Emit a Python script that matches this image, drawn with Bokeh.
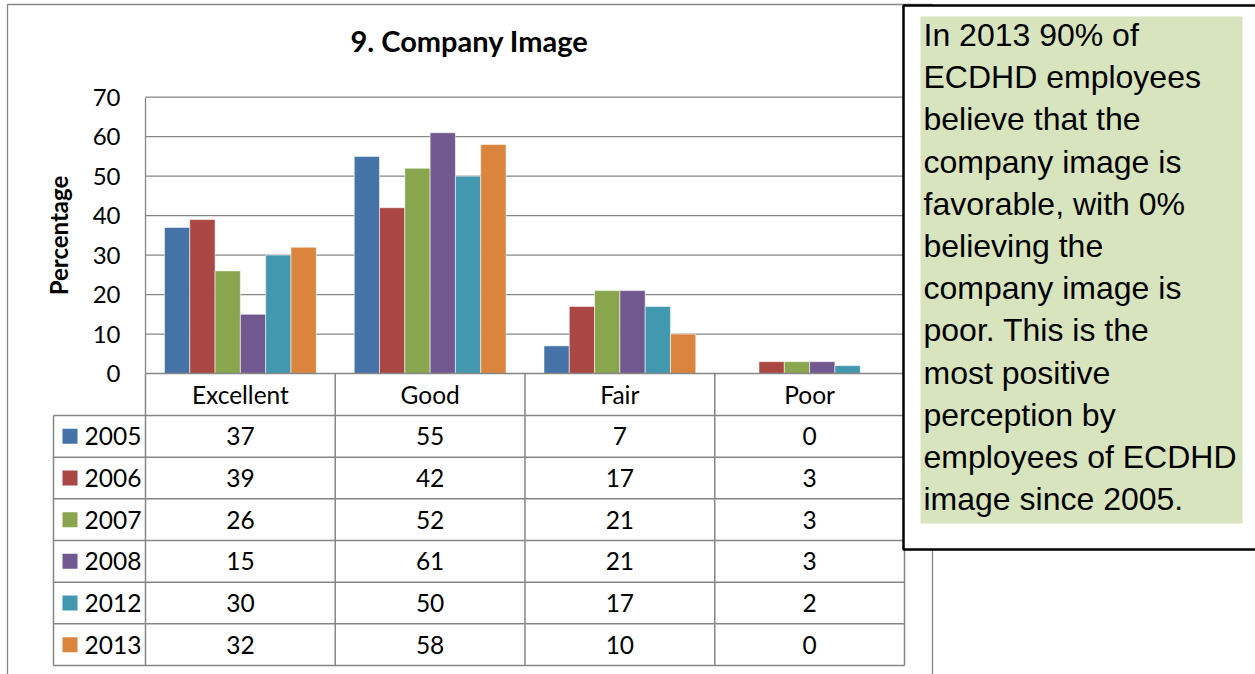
from bokeh.plotting import figure
from bokeh.models import Range1d, LinearAxis, FixedTicker, ColumnDataSource
from bokeh.core.properties import value
from bokeh.embed import file_html
from bokeh.resources import INLINE

# ---------------- data ----------------
categories = ["Excellent", "Good", "Fair", "Poor"]
years = ["2005", "2006", "2007", "2008", "2012", "2013"]
v2005 = [37, 55, 7, 0]
v2006 = [39, 42, 17, 3]
v2007 = [26, 52, 21, 3]
v2008 = [15, 61, 21, 3]
v2012 = [30, 50, 17, 2]
v2013 = [32, 58, 10, 0]
series = [v2005, v2006, v2007, v2008, v2012, v2013]
colors = ["#4572A7", "#AA4643", "#89A54E", "#71588F", "#4198AF", "#DB843D"]
y_ticks = [0, 10, 20, 30, 40, 50, 60, 70]
title_text = "9. Company Image"
y_label = "Percentage"
note_lines = [
    "In 2013 90% of",
    "ECDHD employees",
    "believe that the",
    "company image is",
    "favorable, with 0%",
    "believing the",
    "company image is",
    "poor.  This is the",
    "most positive",
    "perception by",
    "employees of ECDHD",
    "image since 2005.",
]

# ---------------- layout helpers (pixel -> data) ----------------
W, H = 1255, 674
PL = 145.0        # plot area left (px)
CAT = 189.75      # px per category
Y0 = 373.0        # px of value 0
UNIT = 3.947      # px per percentage point
ROW = 41.67       # table row height (px)
HDR_BOT = 415.0   # bottom of header row (px)


def X(px):
    return (px - PL) / CAT - 0.5


def Y(py):
    return (Y0 - py) / UNIT


GRID = "#868686"
FONT = value("Lato")

p = figure(width=W, height=H, x_range=Range1d(X(0), X(W)), y_range=Range1d(Y(H), Y(0)),
           output_backend="svg", toolbar_location=None, x_axis_location=None,
           y_axis_location=None, min_border=0, outline_line_color=None)
p.grid.visible = False
p.background_fill_color = "white"
p.border_fill_color = "white"

# outer chart border
p.line(x=[X(7), X(7), X(932), X(932)], y=[Y(690), Y(4), Y(4), Y(690)],
       line_color=GRID, line_width=1.3)

# horizontal gridlines
gl = [t for t in y_ticks if t > 0]
p.segment(x0=[-0.5] * len(gl), x1=[3.5] * len(gl), y0=gl, y1=gl,
          line_color=GRID, line_width=1.3)

# bars
n = len(years)
bw = 0.8 / n
for j, (yr, vals, col) in enumerate(zip(years, series, colors)):
    xs = [i - 0.4 + bw * (j + 0.5) for i in range(len(categories))]
    src = ColumnDataSource(dict(x=xs, top=vals))
    p.vbar(x="x", top="top", bottom=0, width=bw, source=src, fill_color=col,
           line_color="white", line_alpha=0.55, line_width=1)

# y axis at plot-area left
yaxis = LinearAxis(fixed_location=-0.5, ticker=FixedTicker(ticks=y_ticks), bounds=(0, 70),
                   axis_label=y_label)
yaxis.axis_line_color = GRID
yaxis.axis_line_width = 1.3
yaxis.major_tick_out = 0
yaxis.major_tick_in = 0
yaxis.minor_tick_out = 0
yaxis.minor_tick_in = 0
yaxis.major_label_standoff = 25
yaxis.major_label_text_font = "Lato"
yaxis.major_label_text_font_size = "24px"
yaxis.major_label_text_color = "black"
yaxis.axis_label_text_font = "Lato"
yaxis.axis_label_text_font_size = "24px"
yaxis.axis_label_text_font_style = "bold"
yaxis.axis_label_text_color = "black"
yaxis.axis_label_standoff = 17
p.add_layout(yaxis, "left")

# category axis line
p.segment(x0=[-0.5], x1=[3.5], y0=[0], y1=[0], line_color=GRID, line_width=1.5)

# ---------------- data table ----------------
row_tops = [HDR_BOT + ROW * k for k in range(n + 1)]
p.segment(x0=[X(53)] * len(row_tops), x1=[3.5] * len(row_tops),
          y0=[Y(r) for r in row_tops], y1=[Y(r) for r in row_tops],
          line_color=GRID, line_width=1.5)
vx = [-0.5, 0.5, 1.5, 2.5, 3.5]
p.segment(x0=vx, x1=vx, y0=[0] * len(vx), y1=[Y(row_tops[-1])] * len(vx),
          line_color=GRID, line_width=1.5)
p.segment(x0=[X(53)], x1=[X(53)], y0=[Y(HDR_BOT)], y1=[Y(row_tops[-1])],
          line_color=GRID, line_width=1.5)

# header labels
p.text(x=list(range(len(categories))), y=[Y((Y0 + HDR_BOT) / 2)] * len(categories),
       text=categories, text_font=FONT, text_font_size="24.5px", text_align="center",
       text_baseline="middle", text_color="black")

# cell values and legend keys
for j, (yr, vals, col) in enumerate(zip(years, series, colors)):
    yc = HDR_BOT + ROW * (j + 0.5)
    p.text(x=list(range(len(categories))), y=[Y(yc)] * len(categories),
           text=[str(v) for v in vals], text_font=FONT, text_font_size="24.5px",
           text_align="center", text_baseline="middle", text_color="black")
    p.rect(x=[X(69.5)], y=[Y(yc)], width=15, height=15, width_units="screen",
           height_units="screen", fill_color=col, line_color=None)
    p.text(x=[X(84)], y=[Y(yc)], text=[yr], text_font=FONT, text_font_size="24.5px",
           text_align="left", text_baseline="middle", text_color="black")

# title
p.text(x=[X(469)], y=[Y(40.3)], text=[title_text], text_font=FONT, text_font_size="29px",
       text_font_style="bold", text_align="center", text_baseline="middle",
       text_color="black")

# ---------------- note box ----------------
p.quad(left=[X(903)], right=[X(1265)], top=[Y(5)], bottom=[Y(549)], fill_color="white",
       line_color="black", line_width=2.5)
p.quad(left=[X(920)], right=[X(1242)], top=[Y(16)], bottom=[Y(523)], fill_color="#D7E4BD",
       line_color=None)
p.text(x=[X(923)] * len(note_lines), y=[Y(34.5 + 42.2 * k) for k in range(len(note_lines))],
       text=note_lines, text_font=value("Liberation Sans"), text_font_size="32px",
       text_align="left", text_baseline="middle", text_color="black")

open("out.html", "w").write(file_html(p, INLINE))
